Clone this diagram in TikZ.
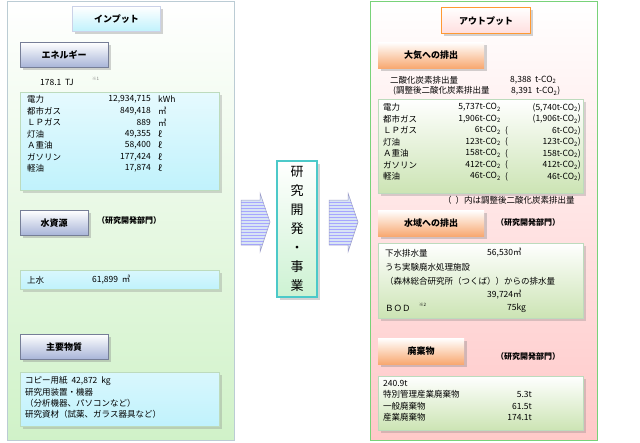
\documentclass[tikz,border=0pt]{standalone}
\usepackage{fontspec}
\setmainfont{Noto Sans CJK JP}
\usetikzlibrary{shadows}
\definecolor{lpanel}{HTML}{D0F2C8}
\definecolor{rpanel}{HTML}{FFC8C8}
\definecolor{hblue}{HTML}{A8B4D8}
\definecolor{horange}{HTML}{F8A870}
\definecolor{cyanbox}{HTML}{C0F2FC}
\definecolor{greenbox}{HTML}{CCE4B4}
\definecolor{arrowblue}{HTML}{D8E4F4}
\tikzset{
 hdrL/.style={draw=hblue!70!black,line width=0.4pt,top color=white,bottom color=hblue,drop shadow={opacity=0.35},font=\fontsize{9}{10}\selectfont\bfseries,minimum height=25pt,anchor=north west},
 hdrR/.style={draw=none,top color=white,bottom color=horange,drop shadow={opacity=0.35},font=\fontsize{9}{10}\selectfont\bfseries,minimum height=26pt,anchor=north west},
 tbox/.style={draw=green!30!gray!40,line width=0.6pt,drop shadow={opacity=0.3}},
 txt/.style={font=\fontsize{8.5}{9}\selectfont,inner sep=0pt,anchor=west},
 txe/.style={font=\fontsize{8.5}{9}\selectfont,inner sep=0pt,anchor=east},
 dept/.style={font=\fontsize{8}{9}\selectfont\bfseries,inner sep=0pt,anchor=west},
}
\begin{document}
\begin{tikzpicture}[x=1pt,y=-1pt]
\useasboundingbox (0,0) rectangle (640,442);
% panels
\draw[draw=cyan!25!gray!50,line width=1pt,top color=white,bottom color=lpanel] (7,1) rectangle (234,440);
\draw[draw=green!50!gray!70,line width=1pt,top color=white,bottom color=rpanel] (370,1) rectangle (597,440);
% left headers
\node[hdrL,draw=hblue!60,line width=1pt,top color=white,bottom color=cyanbox,minimum width=88pt] (inp) at (72,6) {インプット};
\node[hdrL,minimum width=88pt] (ene) at (20,42) {エネルギー};
\node[txt] (tj) at (40,82) {178.1\ \ TJ};
\node[txt,font=\fontsize{4.5}{5}\selectfont,text=gray] (n1) at (92,79) {※1};
\path[tbox,top color=white!60!cyanbox,bottom color=cyanbox] (20,92) rectangle (219,190);
\foreach \l/\v/\u [count=\i] in {電力/{12,934,715}/kWh,都市ガス/{849,418}/㎥,ＬＰガス/889/㎥,灯油/{49,355}/ℓ,Ａ重油/{58,400}/ℓ,ガソリン/{177,424}/ℓ,軽油/{17,874}/ℓ}{
 \node[txt] (el\i) at (27,{88+11.5*\i}) {\l};
 \node[txe] (ev\i) at (151,{88+11.5*\i}) {\v};
 \node[txt] (eu\i) at (158,{88+11.5*\i}) {\u};
}
\node[hdrL,minimum width=68pt] (wat) at (20,210) {水資源};
\node[dept] (d1) at (97,220) {（研究開発部門）};
\path[tbox,top color=white!40!cyanbox,bottom color=cyanbox] (20,270) rectangle (219,289);
\node[txt] (jo) at (27,280) {上水};
\node[txt] (jov) at (92,280) {61,899\ \ ㎥};
\node[hdrL,minimum width=88pt] (mat) at (20,334) {主要物質};
\path[tbox,top color=white!40!cyanbox,bottom color=cyanbox] (20,372) rectangle (219,426);
\node[txt] (m1) at (25,381) {コピー用紙\ \ 42,872\ \ kg};
\node[txt] (m2) at (25,392) {研究用装置・機器};
\node[txt] (m3) at (25,403) {（分析機器、パソコンなど）};
\node[txt] (m4) at (25,414) {研究資材（試薬、ガラス器具など）};
% middle
\begin{scope}
\path[clip] (241,200)--(260,200)--(260,193)--(270,222)--(260,252)--(260,245)--(241,245)--cycle;
\fill[arrowblue] (235,185) rectangle (275,260);
\foreach \y in {202,205,...,245} \draw[blue!35,line width=0.4pt] (241,\y)--(272,\y);
\end{scope}
\draw[blue!30!gray!60,line width=0.5pt] (241,200)--(260,200)--(260,193)--(270,222)--(260,252)--(260,245)--(241,245)--cycle;
\begin{scope}
\path[clip] (329,200)--(348,200)--(348,193)--(358,222)--(348,252)--(348,245)--(329,245)--cycle;
\fill[arrowblue] (325,185) rectangle (362,260);
\foreach \y in {202,205,...,245} \draw[blue!35,line width=0.4pt] (329,\y)--(360,\y);
\end{scope}
\draw[blue!30!gray!60,line width=0.5pt] (329,200)--(348,200)--(348,193)--(358,222)--(348,252)--(348,245)--(329,245)--cycle;
\node[draw=teal!60!cyan!70,line width=1.2pt,top color=white,bottom color=lpanel!80!cyanbox,drop shadow={opacity=0.35},minimum width=40pt,minimum height=136pt,align=center,font=\fontsize{13}{19}\selectfont] (rd) at (297,229) {研\\究\\開\\発\\・\\事\\業};
% right
\node[hdrR,draw=orange!80,line width=1.2pt,top color=white,bottom color=rpanel!60,minimum width=89pt] (out) at (441,7) {アウトプット};
\node[hdrR,minimum width=106pt] (air) at (378,42) {大気への排出};
\node[txt] (a1) at (390,80) {二酸化炭素排出量};
\node[txt] (a1v) at (510,80) {8,388\ \ t-CO\textsubscript{2}};
\node[txt] (a2) at (393,91) {(調整後二酸化炭素排出量};
\node[txt] (a2v) at (511,91) {8,391\ \ t-CO\textsubscript{2})};
\path[tbox,top color=white,bottom color=greenbox] (378,99) rectangle (583,193);
\foreach \l/\v/\w [count=\i] in {電力/{5,737}/{(5,740},都市ガス/{1,906}/{(1,906},ＬＰガス/6/{(},灯油/123/(,Ａ重油/158/(,ガソリン/412/(,軽油/46/(}{
 \node[txt] (cl\i) at (383,{96+11.5*\i}) {\l};
 \node[txe] (cv\i) at (501,{96+11.5*\i}) {\v t-CO\textsubscript{2}};
}
\node[txe] (cw1) at (581,{96+11.5}) {(5,740t-CO\textsubscript{2})};
\node[txe] (cw2) at (581,{96+23}) {(1,906t-CO\textsubscript{2})};
\foreach \v [count=\i from 3] in {6,123,158,412,46}{
 \node[txt] (cp\i) at (505,{96+11.5*\i}) {(};
 \node[txe] (cw\i) at (581,{96+11.5*\i}) {\v t-CO\textsubscript{2})};
}
\node[txt] (note) at (443,200) {（\ \ ）内は調整後二酸化炭素排出量};
\node[hdrR,minimum width=106pt] (wtr) at (378,210) {水域への排出};
\node[dept] (d2) at (496,222) {（研究開発部門）};
\path[tbox,top color=white,bottom color=greenbox] (378,243) rectangle (583,318);
\node[txt] (w1) at (385,253) {下水排水量};
\node[txt] (w1v) at (487,253) {56,530㎥};
\node[txt] (w2) at (385,267) {うち実験廃水処理施設};
\node[txt] (w3) at (385,281) {（森林総合研究所（つくば））からの排水量};
\node[txt] (w3v) at (487,295) {39,724㎥};
\node[txt] (w4) at (385,308) {ＢＯＤ};
\node[txt,font=\fontsize{4.5}{5}\selectfont] (n2) at (419,305) {※2};
\node[txt] (w4v) at (507,308) {75kg};
\node[hdrR,minimum width=86pt] (wst) at (378,338) {廃棄物};
\node[dept] (d3) at (496,356) {（研究開発部門）};
\path[tbox,top color=white,bottom color=greenbox] (378,376) rectangle (583,430);
\node[txt] (x0) at (383,383) {240.9t};
\foreach \l/\v [count=\i] in {特別管理産業廃棄物/5.3t,一般廃棄物/61.5t,産業廃棄物/174.1t}{
 \node[txt] (xl\i) at (383,{383+11.5*\i}) {\l};
 \node[txe] (xv\i) at (532,{383+11.5*\i}) {\v};
}
\end{tikzpicture}
\end{document}
